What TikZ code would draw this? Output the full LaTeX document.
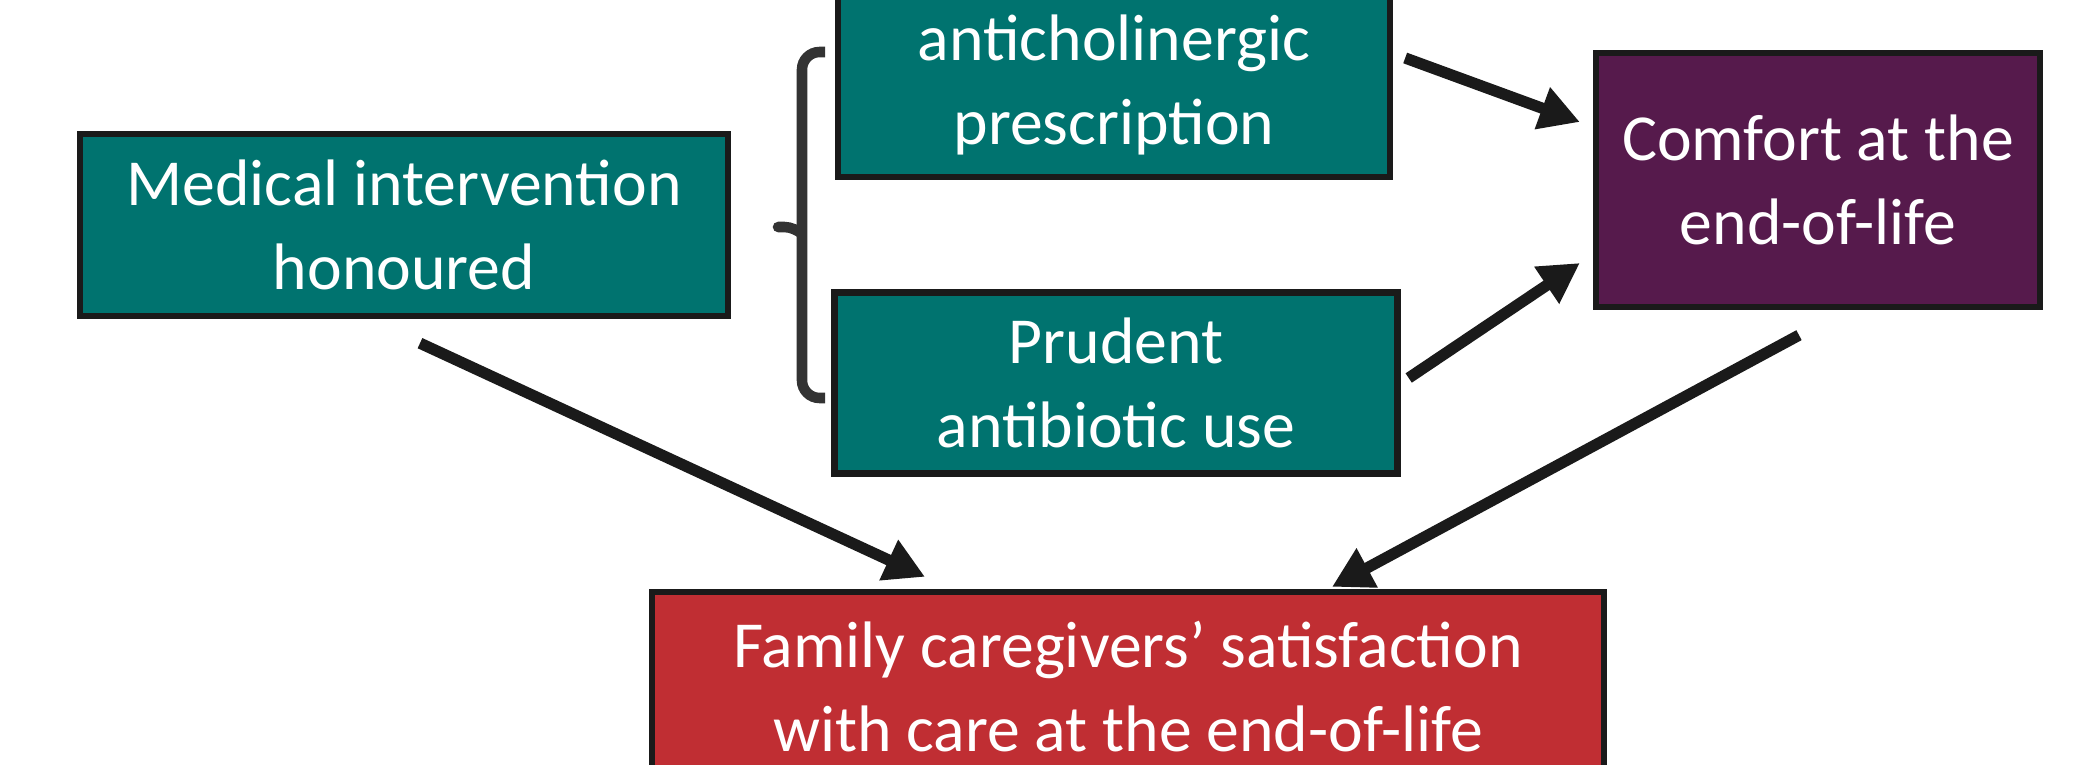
\documentclass[tikz,border=0pt]{standalone}
\usepackage{fontspec}
\setmainfont{Carlito}
\usepackage{xcolor}
\usepackage{tikz}
\usetikzlibrary{shapes,arrows,positioning,calc,arrows.meta}

\definecolor{tealbox}{HTML}{00736F}
\definecolor{plumbox}{HTML}{561A4C}
\definecolor{redbox}{HTML}{C02E33}
\definecolor{edgegray}{HTML}{1A1A1A}
\definecolor{bracegray}{HTML}{333333}

\tikzset{
    factor/.style={draw=edgegray,line width=1.8pt,text=white,align=center,inner sep=0pt,
        font=\fontsize{18.7pt}{23.9pt}\selectfont},
    link/.style={draw=edgegray,line width=3.2pt,-{Triangle[length=0.40cm,width=0.42cm]}}
}

\begin{document}
\begin{tikzpicture}
    \useasboundingbox (0,0) rectangle (20.82,7.64);
    % Boxes
    \node[factor,fill=tealbox,minimum width=6.48cm,minimum height=1.82cm] (med) at (4.04,5.39) {Medical intervention\\honoured};
    \node[factor,fill=tealbox,minimum width=5.52cm,minimum height=1.84cm] (anti) at (11.14,6.79) {anticholinergic\\prescription};
    \node[factor,fill=tealbox,minimum width=5.63cm,minimum height=1.81cm] (prud) at (11.16,3.81) {Prudent\\antibiotic use};
    \node[factor,fill=plumbox,minimum width=4.44cm,minimum height=2.54cm] (comf) at (18.18,5.84) {Comfort at the\\end-of-life};
    \node[factor,fill=redbox,minimum width=9.52cm,minimum height=1.90cm] (fam) at (11.28,0.77) {Family caregivers’ satisfaction\\with care at the end-of-life};
    % Brace
    \draw[bracegray,line width=3pt,rounded corners=5pt] (8.25,7.12) -- (8.02,7.12) -- (8.02,3.66) -- (8.25,3.66);
    \draw[bracegray,line width=3pt,line cap=round,rounded corners=3pt] (7.78,5.37) -- (7.95,5.37) -- (8.02,5.30);
    % Arrows
    \draw[link] ([shift={(0.12,0.27)}]anti.east) -- ([shift={(-0.13,0.58)}]comf.west);
    \draw[link] ([shift={(0.08,0.05)}]prud.east) -- ([shift={(-0.13,-0.83)}]comf.west);
    \draw[link] ([shift={(0.16,-0.24)}]med.south) -- ([shift={(-2.03,0.12)}]fam.north);
    \draw[link] ([shift={(-0.19,-0.25)}]comf.south) -- ([shift={(2.04,0.02)}]fam.north);
\end{tikzpicture}
\end{document}
